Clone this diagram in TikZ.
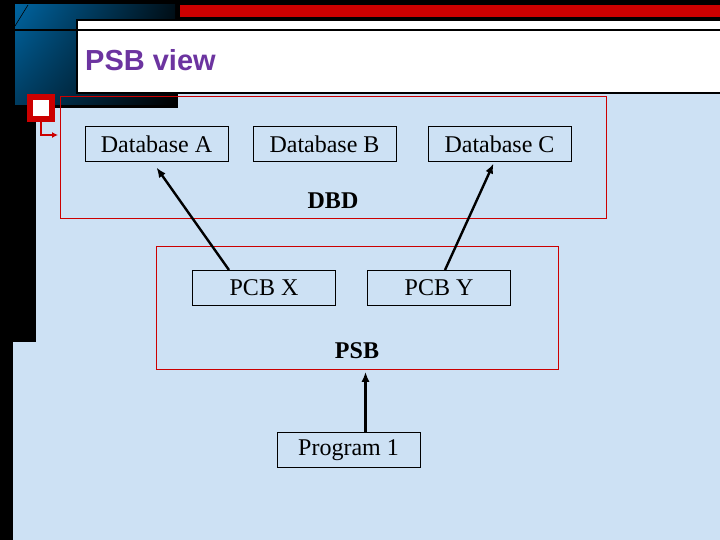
\documentclass[tikz,border=0pt]{standalone}
\usepackage{fontspec}
\setmainfont{Liberation Serif}
\newfontfamily\titlefont{Liberation Sans}
\usetikzlibrary{arrows.meta, positioning, shadings}

\definecolor{slideblue}{RGB}{205,225,244}
\definecolor{titlepurple}{RGB}{108,52,160}
\definecolor{barred}{RGB}{204,0,0}
\definecolor{navy}{RGB}{0,100,160}

\begin{document}
\begin{tikzpicture}[
        x=1pt, y=-1pt,
        box/.style={rectangle, draw=black, line width=1pt, minimum width=143pt, minimum height=35pt, inner sep=0pt, font=\fontsize{24}{28}\selectfont},
        frame/.style={rectangle, draw=barred, line width=0.8pt, inner sep=0pt, anchor=north west},
        tag/.style={font=\fontsize{24}{28}\selectfont\bfseries},
        arrow/.style={-{Latex[length=10pt,width=8pt]}, line width=2.4pt}
    ]
    \useasboundingbox (0,0) rectangle (720,540);

    % Slide
    \fill[slideblue] (0,0) rectangle (720,540);
    \fill[black] (0,0) rectangle (36,342);
    \fill[black] (0,342) rectangle (13,540);
    \fill[black] (0,0) rectangle (720,20);
    \fill[black] (0,0) rectangle (178,108);
    \shade[upper left=navy, lower right=black, upper right=black!85!navy, lower left=navy!60!black] (15,5) rectangle (175,105);
    \draw[black, line width=0.6pt] (15,26) -- (28,5);
    \fill[barred] (180,5) rectangle (720,17);
    \draw[fill=white, line width=2pt] (77,20) rectangle (722,93);
    \draw[line width=1.5pt] (15,30) -- (720,30);
    \node[anchor=west, inner sep=0pt, text=titlepurple, font=\titlefont\bfseries\fontsize{29}{33}\selectfont] (title) at (85,60) {PSB view};

    % Bullet
    \node[rectangle, draw=barred, line width=6pt, fill=white, minimum size=22pt, inner sep=0pt] (bullet) at (41,108) {};
    \coordinate (bulletend) at (58,135);
    \draw[barred, line width=1.5pt, -{Latex[length=6pt,width=6pt]}] (bullet.south) |- (bulletend);

    % Frames
    \node[frame, minimum width=546pt, minimum height=122pt] (dbd) at (60,96) {};
    \node[frame, minimum width=402pt, minimum height=123pt] (psb) at (156,246) {};
    \node[tag] (dbdlabel) at (333,201) {DBD};
    \node[tag] (psblabel) at (357,351) {PSB};

    % Nodes
    \node[box] (dbA) at (156.5,144.5) {Database A};
    \node[box, right=24pt of dbA] (dbB) {Database B};
    \node[box, right=31pt of dbB] (dbC) {Database C};
    \node[box] (pcbX) at (264,288) {PCB X};
    \node[box, right=31pt of pcbX] (pcbY) {PCB Y};
    \node[box] (prog) at (348.5,450) {Program 1};

    % Arrows
    \draw[arrow] ([xshift=-35pt]pcbX.north) -- ([yshift=-5pt]dbA.south);
    \draw[arrow] ([xshift=6pt]pcbY.north) -- ([xshift=-6pt,yshift=-1pt]dbC.south);
    \draw[arrow, shorten >=2pt] ([xshift=17pt]prog.north) -- ([xshift=17pt]prog.north |- psb.south);

\end{tikzpicture}
\end{document}
